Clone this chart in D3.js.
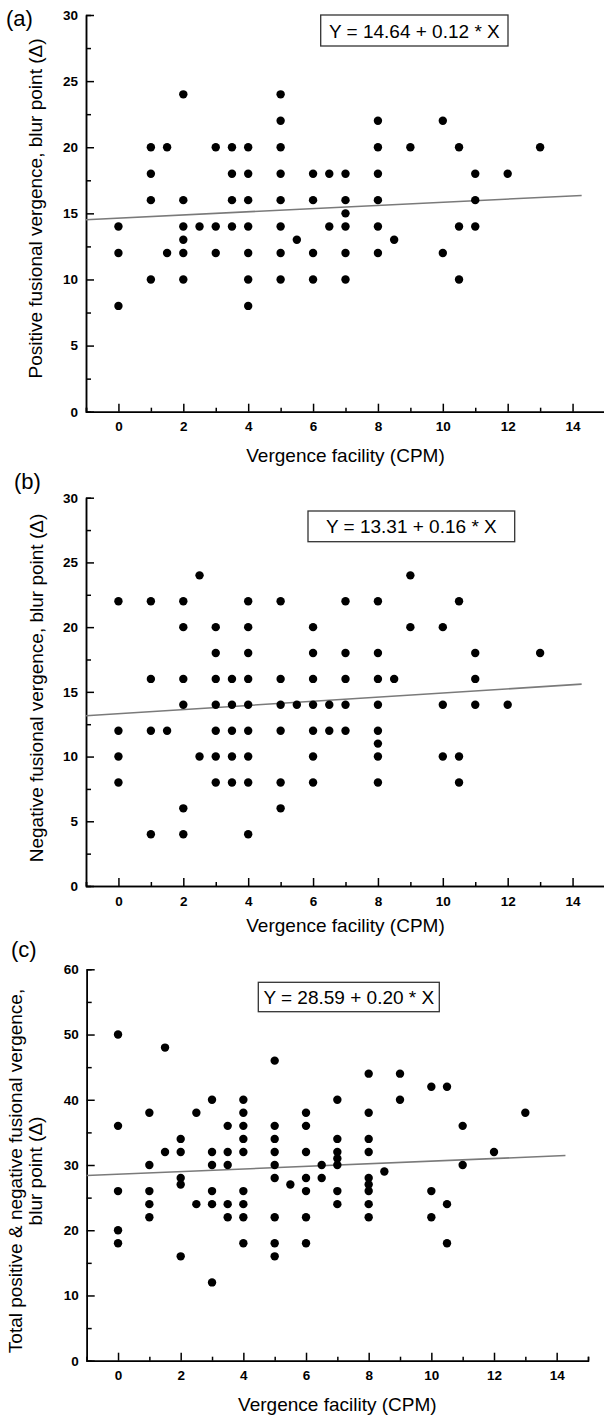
<!DOCTYPE html>
<html>
  <head>
    <meta charset="UTF-8" />
    <style>
      body {
        margin: 0;
        background: #fff;
      }
      svg text {
        font-family: "Liberation Sans", Arial, sans-serif;
        fill: #000;
      }
      .axis .tick text {
        font-weight: bold;
        font-size: 13.5px;
      }
      .axis path,
      .axis line {
        stroke: #000;
        stroke-width: 1.5;
      }
    </style>
  </head>
  <body>
    <svg></svg>
    <script src="https://d3js.org/d3.v7.min.js"></script>
    <script>
      let width = 604,
        height = 1416;

      // ticks
      const xTicks = [0, 2, 4, 6, 8, 10, 12, 14];
      const xMinor = [-1, 1, 3, 5, 7, 9, 11, 13, 15];
      const fitSpan = [-1, 14.28];

      // (a) positive fusional vergence, [facility, blur point]
      const posBlur = [
        [0, 14], [0, 12], [0, 8],
        [1, 20], [1, 18], [1, 16], [1, 10],
        [1.5, 20], [1.5, 12],
        [2, 24], [2, 16], [2, 14], [2, 13], [2, 12], [2, 10],
        [2.5, 14],
        [3, 20], [3, 14], [3, 12],
        [3.5, 20], [3.5, 18], [3.5, 16], [3.5, 14],
        [4, 20], [4, 18], [4, 16], [4, 14], [4, 12], [4, 10], [4, 8],
        [5, 24], [5, 22], [5, 20], [5, 18], [5, 16], [5, 14], [5, 12], [5, 10],
        [5.5, 13],
        [6, 18], [6, 16], [6, 12], [6, 10],
        [6.5, 18], [6.5, 14],
        [7, 18], [7, 16], [7, 15], [7, 14], [7, 12], [7, 10],
        [8, 22], [8, 20], [8, 18], [8, 16], [8, 14], [8, 12],
        [8.5, 13],
        [9, 20],
        [10, 22], [10, 12],
        [10.5, 20], [10.5, 14], [10.5, 10],
        [11, 18], [11, 16], [11, 14],
        [12, 18],
        [13, 20],
      ];
      const posFit = [14.64, 0.12];

      // (b) negative fusional vergence
      const negBlur = [
        [0, 22], [0, 12], [0, 10], [0, 8],
        [1, 22], [1, 16], [1, 12], [1, 4],
        [1.5, 12],
        [2, 22], [2, 20], [2, 16], [2, 14], [2, 6], [2, 4],
        [2.5, 24], [2.5, 10],
        [3, 20], [3, 18], [3, 16], [3, 14], [3, 12], [3, 10], [3, 8],
        [3.5, 16], [3.5, 14], [3.5, 12], [3.5, 10], [3.5, 8],
        [4, 22], [4, 20], [4, 18], [4, 16], [4, 14], [4, 12], [4, 10], [4, 8], [4, 4],
        [5, 22], [5, 16], [5, 14], [5, 12], [5, 8], [5, 6],
        [5.5, 14],
        [6, 20], [6, 18], [6, 16], [6, 14], [6, 12], [6, 10], [6, 8],
        [6.5, 14], [6.5, 12],
        [7, 22], [7, 18], [7, 16], [7, 14], [7, 12],
        [8, 22], [8, 18], [8, 16], [8, 14], [8, 12], [8, 11], [8, 10], [8, 8],
        [8.5, 16],
        [9, 24], [9, 20],
        [10, 20], [10, 14], [10, 10],
        [10.5, 22], [10.5, 10], [10.5, 8],
        [11, 18], [11, 16], [11, 14],
        [12, 14],
        [13, 18],
      ];
      const negFit = [13.31, 0.16];

      // (c) total positive & negative
      const totBlur = [
        [0, 50], [0, 36], [0, 26], [0, 20], [0, 18],
        [1, 38], [1, 30], [1, 26], [1, 24], [1, 22],
        [1.5, 48], [1.5, 32],
        [2, 34], [2, 32], [2, 28], [2, 27], [2, 16],
        [2.5, 38], [2.5, 24],
        [3, 40], [3, 32], [3, 30], [3, 26], [3, 24], [3, 12],
        [3.5, 36], [3.5, 32], [3.5, 30], [3.5, 24], [3.5, 22],
        [4, 40], [4, 38], [4, 36], [4, 34], [4, 32], [4, 26], [4, 24], [4, 22], [4, 18],
        [5, 46], [5, 36], [5, 34], [5, 32], [5, 30], [5, 28], [5, 22], [5, 18], [5, 16],
        [5.5, 27],
        [6, 38], [6, 36], [6, 32], [6, 28], [6, 26], [6, 22], [6, 18],
        [6.5, 30], [6.5, 28],
        [7, 40], [7, 34], [7, 32], [7, 31], [7, 30], [7, 26], [7, 24],
        [8, 44], [8, 38], [8, 34], [8, 32], [8, 28], [8, 27], [8, 26], [8, 24], [8, 22],
        [8.5, 29],
        [9, 44], [9, 40],
        [10, 42], [10, 26], [10, 22],
        [10.5, 42], [10.5, 24], [10.5, 18],
        [11, 36], [11, 30],
        [12, 32],
        [13, 38],
      ];
      const totFit = [28.59, 0.2];

      const xTitle = "Vergence facility (CPM)";

      let svg = d3
        .select("svg")
        .attr("width", width)
        .attr("height", height);

      // layout of the three panels
      const panels = [
        {
          tag: "(a)", tagX: 6, tagY: 26,
          data: posBlur, fit: posFit,
          yMax: 30, yStep: 5,
          yTitle: ["Positive fusional vergence, blur point (Δ)"],
          yTitleX: [41.5], yTitleMid: 208.5,
          left: 86, right: 605, top: 15, bottom: 411.7,
          box: [320.7, 15, 187.3, 31], xTitleY: 461.5,
        },
        {
          tag: "(b)", tagX: 14, tagY: 489,
          data: negBlur, fit: negFit,
          yMax: 30, yStep: 5,
          yTitle: ["Negative fusional vergence, blur point (Δ)"],
          yTitleX: [42.5], yTitleMid: 688,
          left: 86, right: 605, top: 497.7, bottom: 886,
          box: [308, 511, 206.7, 30.7], xTitleY: 932,
        },
        {
          tag: "(c)", tagX: 11, tagY: 957,
          data: totBlur, fit: totFit,
          yMax: 60, yStep: 10,
          yTitle: ["Total positive & negative fusional vergence,", "blur point (Δ)"],
          yTitleX: [21.5, 41.5], yTitleMid: 1171,
          left: 86.7, right: 588, top: 969.3, bottom: 1360.7,
          box: [258.3, 982.3, 181, 29.4], xTitleY: 1411,
        },
      ];

      panels.forEach((p) => {
        let x = d3.scaleLinear().domain([-1, 15]).range([p.left, p.right]);
        let y = d3.scaleLinear().domain([0, p.yMax]).range([p.bottom, p.top]);

        let yMajor = d3.range(0, p.yMax + 0.001, p.yStep);
        let yMinor = d3.range(p.yStep / 2, p.yMax, p.yStep);

        let g = svg.append("g");

        // minor ticks (no labels)
        g.append("g")
          .attr("class", "axis")
          .attr("transform", "translate(0," + p.bottom + ")")
          .call(d3.axisBottom(x).tickValues(xMinor).tickSize(-4).tickFormat(""));
        g.append("g")
          .attr("class", "axis")
          .attr("transform", "translate(" + p.left + ",0)")
          .call(d3.axisLeft(y).tickValues(yMinor).tickSize(-5).tickFormat(""));

        // major ticks
        g.append("g")
          .attr("class", "axis")
          .attr("transform", "translate(0," + p.bottom + ")")
          .call(
            d3
              .axisBottom(x)
              .tickValues(xTicks)
              .tickSizeInner(-8)
              .tickSizeOuter(0)
              .tickPadding(10)
          );
        g.append("g")
          .attr("class", "axis")
          .attr("transform", "translate(" + p.left + ",0)")
          .call(
            d3
              .axisLeft(y)
              .tickValues(yMajor)
              .tickSizeInner(-8)
              .tickSizeOuter(0)
              .tickPadding(8)
          );

        // regression line
        g.append("line")
          .attr("x1", x(fitSpan[0]))
          .attr("y1", y(p.fit[0] + p.fit[1] * fitSpan[0]))
          .attr("x2", x(fitSpan[1]))
          .attr("y2", y(p.fit[0] + p.fit[1] * fitSpan[1]))
          .attr("stroke", "#7a7a7a")
          .attr("stroke-width", 1.6);

        // points
        g.append("g")
          .selectAll("circle")
          .data(p.data)
          .enter()
          .append("circle")
          .attr("cx", (d) => x(d[0]))
          .attr("cy", (d) => y(d[1]))
          .attr("r", 4.2)
          .attr("fill", "#000");

        // equation box
        g.append("rect")
          .attr("x", p.box[0])
          .attr("y", p.box[1])
          .attr("width", p.box[2])
          .attr("height", p.box[3])
          .attr("fill", "#fff")
          .attr("stroke", "#333")
          .attr("stroke-width", 1.3);
        g.append("text")
          .attr("x", p.box[0] + p.box[2] / 2)
          .attr("y", p.box[1] + p.box[3] / 2 + 7)
          .attr("text-anchor", "middle")
          .style("font-size", "19px")
          .text(
            "Y = " + p.fit[0].toFixed(2) + " + " + p.fit[1].toFixed(2) + " * X"
          );

        // panel tag
        g.append("text")
          .attr("x", p.tagX)
          .attr("y", p.tagY)
          .style("font-size", "22px")
          .text(p.tag);

        // axis titles
        g.append("text")
          .attr("x", (p.left + p.right) / 2)
          .attr("y", p.xTitleY)
          .attr("text-anchor", "middle")
          .style("font-size", "19px")
          .text(xTitle);

        p.yTitle.forEach((t, i) => {
          g.append("text")
            .attr(
              "transform",
              "translate(" + p.yTitleX[i] + "," + p.yTitleMid + ") rotate(-90)"
            )
            .attr("text-anchor", "middle")
            .style("font-size", "19px")
            .text(t);
        });
      });
    </script>
  </body>
</html>
